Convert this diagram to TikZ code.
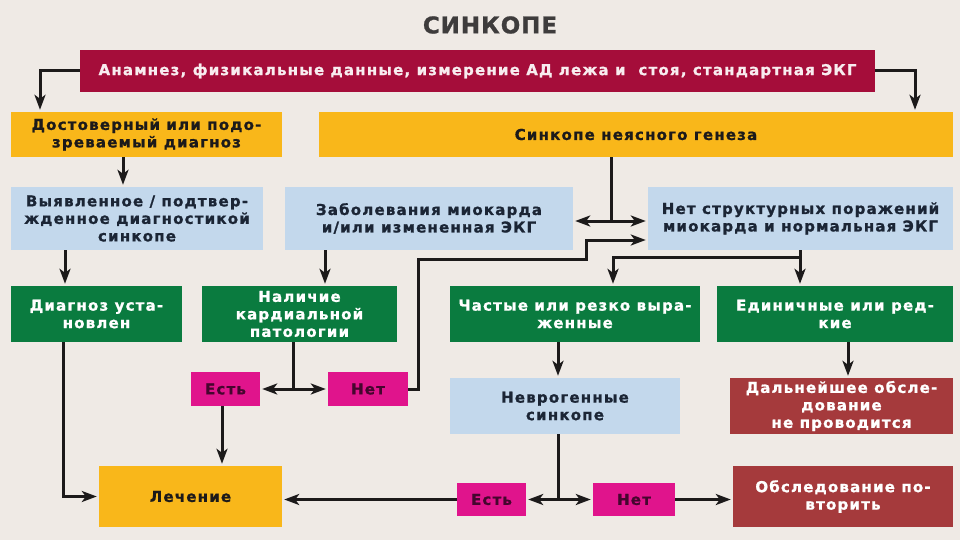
\documentclass[tikz,border=0pt]{standalone}
\usepackage{fontspec}
\setmainfont{DejaVu Sans}
\usetikzlibrary{arrows.meta,calc}
\definecolor{bg}{HTML}{EFEAE5}
\definecolor{cred}{HTML}{A50D3A}
\definecolor{cyel}{HTML}{F9B71A}
\definecolor{cblue}{HTML}{C3D8EC}
\definecolor{cgreen}{HTML}{0A7B3F}
\definecolor{cmag}{HTML}{E0148C}
\definecolor{cbrown}{HTML}{A53A3C}
\definecolor{ink}{HTML}{1C1A1A}
\definecolor{tnavy}{HTML}{1B2535}
\definecolor{tmag}{HTML}{45062E}
\newfontfamily\boxfont{DejaVu Sans}[LetterSpace=8, BoldFeatures={FakeBold=1}]
\newfontfamily\titlefont{DejaVu Sans}[LetterSpace=4, BoldFeatures={FakeBold=1}]
\tikzset{
  bx/.style={inner sep=0pt, align=center, font=\boxfont\bfseries\fontsize{15}{17.5}\selectfont},
  redbox/.style={bx, fill=cred, text=white!92!cred},
  yelbox/.style={bx, fill=cyel, text=ink},
  bluebox/.style={bx, fill=cblue, text=tnavy},
  greenbox/.style={bx, fill=cgreen, text=white},
  magbox/.style={bx, fill=cmag, text=tmag},
  brownbox/.style={bx, fill=cbrown, text=white},
  ln/.style={draw=ink, line width=3pt},
  arr/.style={ln, -{Stealth[length=15pt,width=11pt,inset=4pt]}, shorten >=2pt}
}
\begin{document}
\begin{tikzpicture}[x=1pt,y=-1pt]
\fill[bg] (0,0) rectangle (960,540);
\useasboundingbox (0,0) rectangle (960,540);

\node[font=\titlefont\bfseries\fontsize{23}{25}\selectfont, text=ink!85!white] (title) at (490,25) {СИНКОПЕ};

\node[redbox, minimum width=795, minimum height=42] (red) at (477.5,71)
  {Анамнез, физикальные данные, измерение АД лежа и\ \ стоя, стандартная ЭКГ};

\node[yelbox, minimum width=271, minimum height=45] (yl) at (146.5,134.5)
  {Достоверный или подо-\\зреваемый диагноз};
\node[yelbox, minimum width=634, minimum height=45] (yr) at (636,134.5)
  {Синкопе неясного генеза};

\node[bluebox, minimum width=252, minimum height=63] (b1) at (137,218.5)
  {Выявленное / подтвер-\\жденное диагностикой\\синкопе};
\node[bluebox, minimum width=288, minimum height=63] (b2) at (429,218.5)
  {Заболевания миокарда\\и/или измененная ЭКГ};
\node[bluebox, minimum width=305, minimum height=63] (b3) at (800.5,218.5)
  {Нет структурных поражений\\миокарда и нормальная ЭКГ};

\node[greenbox, minimum width=171, minimum height=56] (g1) at (96.5,314)
  {Диагноз уста-\\новлен};
\node[greenbox, minimum width=195, minimum height=56] (g2) at (299.5,314)
  {Наличие\\кардиальной\\патологии};
\node[greenbox, minimum width=250, minimum height=56] (g3) at (575,314)
  {Частые или резко выра-\\женные};
\node[greenbox, minimum width=236, minimum height=56] (g4) at (835,314)
  {Единичные или ред-\\кие};

\node[magbox, minimum width=69, minimum height=34] (e1) at (225.5,389) {Есть};
\node[magbox, minimum width=80, minimum height=34] (n1) at (368,389) {Нет};

\node[bluebox, minimum width=230, minimum height=56] (nv) at (565,406)
  {Неврогенные\\синкопе};
\node[brownbox, minimum width=223, minimum height=56] (dal) at (841.5,406)
  {Дальнейшее обсле-\\дование\\не проводится};

\node[yelbox, minimum width=183, minimum height=61] (lech) at (190.5,496.5) {Лечение};
\node[magbox, minimum width=69, minimum height=33] (e2) at (491.5,499.5) {Есть};
\node[magbox, minimum width=82, minimum height=33] (n2) at (634,499.5) {Нет};
\node[brownbox, minimum width=220, minimum height=61] (obs) at (843,496.5)
  {Обследование по-\\вторить};

% connectors
\coordinate (cl) at (40,71);
\coordinate (cr) at (915,71);
\draw[arr] (red.west) -- (cl) -- (cl |- yl.north);
\draw[arr] (red.east) -- (cr) -- (cr |- yr.north);

\coordinate (c1) at (123,0);
\draw[arr] (c1 |- yl.south) -- (c1 |- b1.north);

\coordinate (j1) at (611,221);
\draw[ln] (j1 |- yr.south) -- (j1);
\draw[arr] (j1) -- (b2.east |- j1);
\draw[arr] (j1) -- (b3.west |- j1);

\coordinate (k1) at (418,389);
\coordinate (k2) at (418,259);
\coordinate (k3) at (586,259);
\coordinate (k4) at (586,240);
\draw[arr] (n1.east) -- (k1) -- (k2) -- (k3) -- (k4) -- (b3.west |- k4);

\coordinate (j2) at (800,257);
\coordinate (j3) at (613,257);
\draw[ln] (b3.south -| j2) -- (j2);
\draw[arr] (j2) -- (j3) -- (j3 |- g3.north);
\draw[arr] (j2) -- (j2 |- g4.north);

\coordinate (c2) at (65,0);
\draw[arr] (c2 |- b1.south) -- (c2 |- g1.north);
\coordinate (c3) at (325,0);
\draw[arr] (c3 |- b2.south) -- (c3 |- g2.north);

\coordinate (j4) at (293,389);
\draw[ln] (j4 |- g2.south) -- (j4);
\draw[arr] (j4) -- (e1.east);
\draw[arr] (j4) -- (n1.west);

\coordinate (c4) at (222,0);
\draw[arr] (c4 |- e1.south) -- (c4 |- lech.north);

\coordinate (c5) at (63,496.5);
\draw[arr] (c5 |- g1.south) -- (c5) -- (lech.west);

\draw[arr] (e2.west) -- (lech.east |- e2.west);

\coordinate (c6) at (558,0);
\draw[arr] (c6 |- g3.south) -- (c6 |- nv.north);
\coordinate (j5) at (558,499.5);
\draw[ln] (c6 |- nv.south) -- (j5);
\draw[arr] (j5) -- (e2.east);
\draw[arr] (j5) -- (n2.west);

\draw[arr] (n2.east) -- (obs.west |- n2.east);

\coordinate (c7) at (848,0);
\draw[arr] (c7 |- g4.south) -- (c7 |- dal.north);
\end{tikzpicture}
\end{document}
